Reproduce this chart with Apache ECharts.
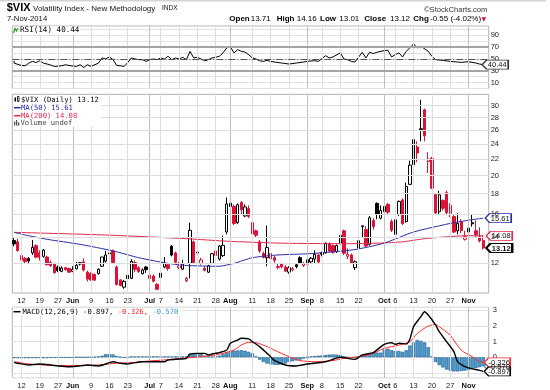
<!DOCTYPE html>
<html><head><meta charset="utf-8">
<script src="https://cdn.jsdelivr.net/npm/echarts@6/dist/echarts.min.js"></script>
<style>html,body{margin:0;padding:0;background:#fff}#c{width:550px;height:390px}</style>
</head><body><div id="c"></div>
<script>
// ---- trading days (categories) ----
const monthDays = [
 ['05', [8,9,12,13,14,15,16,19,20,21,22,23,27,28,29,30]],
 ['06', [2,3,4,5,6,9,10,11,12,13,16,17,18,19,20,23,24,25,26,27,30]],
 ['07', [1,2,3,7,8,9,10,11,14,15,16,17,18,21,22,23,24,25,28,29,30,31]],
 ['08', [1,4,5,6,7,8,11,12,13,14,15,18,19,20,21,22,25,26,27,28,29]],
 ['09', [2,3,4,5,8,9,10,11,12,15,16,17,18,19,22,23,24,25,26,29,30]],
 ['10', [1,2,3,6,7,8,9,10,13,14,15,16,17,20,21,22,23,24,27,28,29,30,31]],
 ['11', [3,4,5,6,7]]
];
const categories = [];
monthDays.forEach(([m, ds]) => ds.forEach(d => categories.push(m + '-' + String(d).padStart(2, '0'))));

// ---- x tick labels ----
const xTicks = [['05-12','12'],['05-19','19'],['05-27','27'],['06-02','Jun'],['06-09','9'],['06-16','16'],['06-23','23'],
 ['07-01','Jul'],['07-07','7'],['07-14','14'],['07-21','21'],['07-28','28'],['08-01','Aug'],['08-11','11'],['08-18','18'],
 ['08-25','25'],['09-02','Sep'],['09-08','8'],['09-15','15'],['09-22','22'],['10-01','Oct'],['10-06','6'],['10-13','13'],
 ['10-20','20'],['10-27','27'],['11-03','Nov']];
const monthLabels = ['Jun','Jul','Aug','Sep','Oct','Nov'];

// ---- price OHLC ----
const opens = [13.70,13.60,12.55,12.35,12.35,12.75,13.30,12.75,12.50,12.45,12.05,11.95,11.75,11.45,11.70,11.65,11.45,11.62,12.05,12.10,
 11.40,11.30,11.25,11.30,11.80,12.15,12.75,12.90,11.75,10.90,10.45,11.20,11.00,12.05,11.70,11.30,11.75,11.20,11.15,10.62,
 11.05,11.75,11.90,13.25,12.75,11.70,11.60,10.85,12.00,13.60,12.75,12.00,11.65,11.40,12.00,12.90,12.30,12.55,14.40,16.70,
 16.70,15.20,17.10,15.80,16.50,15.20,14.50,13.60,12.70,12.40,12.70,12.40,11.70,11.95,11.75,11.40,11.55,11.90,12.40,11.85,
 11.95,12.10,12.30,12.60,12.75,12.75,13.45,13.30,12.85,13.50,14.50,12.50,12.60,11.70,13.10,14.85,14.60,13.40,15.40,17.00,
 15.60,16.20,16.90,15.30,14.20,15.95,17.35,15.30,19.00,21.30,23.60,26.10,29.30,21.70,22.10,17.90,16.20,17.30,18.10,16.80,
 15.75,14.50,15.30,13.80,14.40,15.20,14.50,14.00,13.71];
const highs = [13.95,13.85,12.65,12.45,12.45,13.75,13.40,12.95,13.05,12.55,12.20,12.05,11.85,11.80,11.75,11.70,11.80,12.10,12.10,12.35,
 11.50,11.40,11.30,11.65,12.45,12.90,12.85,13.00,11.85,10.95,10.90,11.30,12.30,12.20,11.80,11.65,11.80,11.30,11.25,10.70,
 11.45,12.45,12.00,13.35,12.85,12.10,12.25,11.10,15.20,13.70,13.60,12.40,11.80,11.90,12.75,13.55,13.35,14.10,17.60,17.60,
 16.90,17.00,17.25,16.90,16.80,15.40,14.60,13.75,12.85,14.95,12.85,12.55,12.00,12.05,11.85,11.80,11.75,12.00,12.50,12.10,
 12.85,12.45,12.95,12.70,12.85,13.55,13.55,13.40,13.40,14.40,14.60,13.10,12.70,12.20,13.90,14.95,14.90,15.80,15.60,17.10,
 16.80,17.00,17.05,15.50,15.70,17.30,17.50,19.20,21.80,24.70,24.40,31.06,29.50,22.90,22.30,17.95,18.30,17.40,18.30,17.00,
 15.90,16.05,15.50,14.50,14.95,15.90,15.40,14.80,14.16];
const lows = [13.25,12.85,12.10,11.95,12.00,12.60,12.35,12.20,12.40,11.85,11.75,11.30,11.40,11.40,11.50,11.35,11.40,11.60,11.85,11.45,
 10.80,10.85,10.85,11.25,11.75,12.05,12.55,11.95,10.55,10.50,10.35,10.85,10.95,11.40,11.35,11.25,11.35,10.95,10.75,10.28,
 10.95,11.65,11.50,12.50,12.00,11.60,11.55,10.75,11.00,11.95,12.20,11.90,11.45,11.35,11.95,12.45,12.20,12.45,14.20,16.20,
 15.00,15.10,15.95,15.70,15.60,14.10,13.95,12.75,12.35,11.80,12.20,11.95,11.60,11.65,11.40,11.30,11.45,11.65,11.95,11.75,
 11.70,12.00,12.00,12.00,12.50,12.70,12.80,12.70,12.75,13.40,12.60,12.30,11.95,11.55,12.90,13.90,13.20,13.30,14.60,15.50,
 15.50,16.10,15.90,14.40,14.10,15.80,15.00,15.20,18.90,20.80,21.60,24.40,24.40,20.30,18.50,16.00,16.00,16.30,15.90,15.70,
 14.30,14.20,14.30,13.70,14.20,14.85,13.95,13.55,13.01];
const closes = [13.43,12.92,12.23,12.13,12.17,13.17,12.44,12.42,12.96,11.91,11.84,11.36,11.51,11.68,11.57,11.40,11.58,11.87,11.95,11.55,
 10.95,10.90,10.88,11.60,12.45,12.60,12.68,12.06,10.61,10.55,10.80,10.98,12.13,11.59,11.45,11.55,11.57,10.99,10.82,10.32,
 11.33,11.98,11.65,12.59,12.08,11.82,11.96,11.00,14.54,12.06,12.81,12.24,11.52,11.84,12.69,12.56,13.28,13.33,16.95,17.03,
 15.12,16.87,16.37,16.66,15.77,14.23,14.13,12.90,12.42,13.15,12.32,12.21,11.78,11.76,11.47,11.70,11.63,11.78,12.05,11.98,
 12.25,12.36,12.64,12.09,12.66,13.50,12.88,12.80,13.31,14.12,12.73,12.65,12.03,12.11,13.69,14.93,13.27,15.64,14.85,15.98,
 16.31,16.71,16.16,14.55,15.46,17.20,15.11,18.76,21.24,24.64,22.79,26.25,25.20,21.99,18.57,16.08,17.87,16.53,16.11,16.04,
 14.39,15.15,14.52,14.03,14.73,15.10,14.17,13.67,13.12];
const priceTicks = [12,14,16,18,20,22,24,26,28,30];

// ---- moving averages (read at points) ----
const ma50 = [[0,14.37],[3,14.15],[9,13.8],[18,13.4],[27,12.9],[34,12.4],[42,12.0],[47,11.85],[56,11.8],[60,12.0],[65,12.4],
 [72,12.6],[81,12.7],[93,13.0],[101,13.5],[109,14.4],[120,15.2],[128,15.61]];
const ma200 = [[0,14.37],[25,14.15],[47,13.85],[58,13.65],[72,13.5],[90,13.45],[100,13.5],[106,13.6],[112,13.85],[118,14.0],
 [124,14.1],[128,14.08]];

// ---- RSI(14) ----
const rsi = [[0,47],[0.4,43],[2,39],[3,38.6],[4,43],[5,46],[6,44],[7,47],[8,43],[9,41.5],[10,39.8],[11,37.4],[13,38.6],[14,40.3],
 [15,39],[17,37.4],[18,40.3],[19,35.7],[20,40.3],[21,37.4],[23,43],[24,51.8],[25,50.1],[26,53.5],[27,48.9],[28,39],[29,38.6],
 [30,37.4],[31,44],[32,51.8],[33,50.1],[34,48.9],[35,48.9],[36,46],[37,48.9],[38,50],[39,48.9],[40,51.8],[41,50],[42,54.6],
 [43,48.9],[44,51.8],[45,50],[46,52.9],[47,48.9],[48,63],[49,51.8],[50,52.9],[51,50],[52,47],[53,48.9],[54,51.8],[55,52.9],
 [56,54.6],[57,60.4],[58,68.9],[59,70.6],[60,60.4],[61,66],[62,63],[63,61.7],[64,57.5],[65,51.8],[66,50],[67,47],[68,46],
 [69,47.7],[70,46],[71,44.9],[73,43.2],[75,41.5],[77,43.2],[79,44.9],[80,46],[82,47.2],[83,46],[85,55.7],[86,51.8],[87,53.5],
 [89,60.4],[90,50],[91,48.9],[92,46],[93,44.9],[95,61.5],[96,51.8],[97,61.5],[98,59.3],[99,61.5],[101,64.3],[102,64.9],
 [103,53.5],[104,57.5],[105,60.4],[106,53.5],[107,63.1],[108,68.9],[109,75.7],[110,68.9],[111,71.7],[113,63.1],[114,54.6],
 [115,48.9],[117,47.7],[119,46],[121,44.9],[122,44.3],[124,45.4],[126,43.2],[127,41.5],[128,40.44]];

// ---- MACD(12,26,9) ----
const macd = [[0,-0.32],[1,-0.38],[4,-0.49],[7,-0.43],[10,-0.49],[12,-0.55],[15,-0.6],[18,-0.55],[20,-0.49],[23,-0.55],
 [26,-0.34],[27,-0.28],[29,-0.38],[31,-0.43],[32,-0.38],[35,-0.28],[38,-0.28],[41,-0.28],[42,-0.17],[45,-0.11],[47,-0.07],
 [48,0.21],[50,0.25],[52,0.25],[53,0.15],[54,0.21],[56,0.3],[58,0.46],[59,0.89],[61,1.1],[62,1.21],[64,1.17],[65,1.0],
 [67,0.68],[69,0.25],[70,0.04],[71,-0.2],[74,-0.49],[77,-0.55],[80,-0.43],[85,-0.28],[89,0],[93,-0.13],[95,0.15],[98,0.3],
 [99,0.47],[101,0.83],[103,0.93],[104,0.83],[105,0.89],[107,0.85],[108,1.17],[109,1.95],[111,2.59],[112,2.9],[113,2.69],
 [115,2.06],[116,1.63],[118,1.0],[120,0.36],[121,-0.28],[123,-0.59],[125,-0.74],[127,-0.83],[128,-0.897]];
const signal = [[0,-0.28],[5,-0.45],[14,-0.53],[23,-0.49],[28,-0.38],[32,-0.34],[37,-0.23],[41,-0.17],[46,-0.06],[51,0.04],
 [55,0.15],[60,0.46],[62,0.78],[64,0.95],[66,0.93],[69,0.68],[71,0.46],[75,0.04],[78,-0.21],[82,-0.28],[87,-0.21],[90,-0.06],
 [94,0.04],[98,0.25],[101,0.57],[105,0.78],[108,0.99],[110,1.52],[113,1.99],[115,2.09],[116,1.95],[119,1.4],[122,0.46],
 [125,0.04],[127,-0.28],[128,-0.326]];
const hist = [
 -0.05,-0.05,-0.05,-0.05,-0.05,-0.05,-0.05,-0.05,-0.05,-0.05,
 -0.03,-0.03,-0.02,-0.02,-0.02,-0.02,-0.02,0,0,0,
 0,0.02,0.02,0.05,0.1,0.2,0.21,0.18,0.08,0.02,
 -0.02,0,0.05,0.05,0.05,0.05,0.05,0.05,0.05,0.05,
 0.05,0.05,0.05,0.05,0.05,0.05,0.05,0.05,0.2,0.27,
 0.26,0.22,0.1,0.05,0.04,0.06,0.1,0.2,0.3,0.4,
 0.42,0.44,0.45,0.42,0.35,0.25,0.05,-0.15,-0.3,-0.4,
 -0.45,-0.48,-0.49,-0.45,-0.4,-0.3,-0.25,-0.2,-0.15,-0.08,
 0,0.05,0.08,0.1,0.12,0.15,0.17,0.18,0.17,0.15,
 0.05,0,-0.05,-0.05,0.05,0.15,0.15,0.25,0.3,0.3,
 0.3,0.5,0.55,0.45,0.4,0.4,0.35,0.45,0.75,0.95,
 1.1,1.05,0.95,0.65,0.05,-0.3,-0.5,-0.65,-0.78,-0.85,
 -0.9,-0.9,-0.88,-0.85,-0.8,-0.75,-0.7,-0.63,-0.57];

// ---- styling ----
const RED = '#dc1238', MA50C = '#2d2da6', MA200C = '#e0284f', MACDBLUE = '#3a95d0';
const SANS = 'Liberation Sans';
const xCats = categories.concat(['']);
const last = categories[categories.length - 1];
const tickMap = {}; xTicks.forEach(([d, l]) => tickMap[d] = l);

const candleData = closes.map((c, i) => {
  const o = opens[i];
  const prev = i > 0 ? closes[i - 1] : 0;
  const col = c >= prev ? '#000' : RED;
  const hollow = c > o;
  return { value: [o, c, lows[i], highs[i]],
    itemStyle: { color: hollow ? '#fff' : col, color0: hollow ? '#fff' : col,
      borderColor: col, borderColor0: col, borderColorDoji: col } };
});

const vLines = xTicks.map(([d, l]) => ({ xAxis: d,
  lineStyle: { color: monthLabels.includes(l) ? '#c0c0c0' : '#dedede', width: 1, type: 'solid' } }));

function tag(val, text, border, off, bold) {
  return { coord: [last, val], value: text, symbol: 'path://M0,5L5,0L30,0L30,10L5,10Z',
    symbolSize: [26, 9], symbolOffset: [off, 0],
    itemStyle: { color: '#fff', borderColor: border, borderWidth: bold ? 1.5 : 1 },
    label: { show: true, position: 'inside', offset: [2, 0.5], formatter: text, color: '#111',
      fontSize: 7.5, fontFamily: SANS, fontWeight: bold ? 'bold' : 'normal' } };
}

const xAxisBase = (g, showLabel) => ({
  type: 'category', gridIndex: g, data: xCats, boundaryGap: true,
  axisLine: { show: false }, axisTick: { show: false }, splitLine: { show: false },
  axisLabel: showLabel ? {
    interval: (idx, val) => !!tickMap[val],
    formatter: val => { const l = tickMap[val] || ''; return monthLabels.includes(l) ? '{m|' + l + '}' : l; },
    fontSize: 7.5, fontFamily: SANS, color: '#222', margin: 4,
    rich: { m: { fontSize: 7.5, fontFamily: SANS, fontWeight: 'bold', color: '#111' } }
  } : { show: false }
});

const option = {
  animation: false,
  backgroundColor: '#fff',
  grid: [
    { left: 12.3, top: 26, width: 476.4, height: 62.5, show: true, borderColor: '#b0b0b0', borderWidth: 1 },
    { left: 12.3, top: 94.3, width: 476.4, height: 198.7, show: true, borderColor: '#b0b0b0', borderWidth: 1 },
    { left: 12.3, top: 307.3, width: 476.4, height: 70.4, show: true, borderColor: '#b0b0b0', borderWidth: 1 }
  ],
  xAxis: [xAxisBase(0, false), xAxisBase(1, true), xAxisBase(2, true)],
  yAxis: [
    { type: 'value', gridIndex: 0, position: 'right', min: 0, max: 106, interval: 10,
      axisLine: { show: false }, axisTick: { show: false },
      axisLabel: { formatter: v => [10,30,50,70,90].includes(v) ? String(v) : '', fontSize: 7.5, fontFamily: SANS, color: '#222', margin: 2 },
      splitLine: { lineStyle: { color: '#e2e2e2' } } },
    { type: 'log', logBase: 10, gridIndex: 1, position: 'right', min: 10.10, max: 32.06,
      axisLine: { show: false }, axisTick: { show: false }, axisLabel: { show: false }, splitLine: { show: false } },
    { type: 'value', gridIndex: 2, position: 'right', min: -1.3, max: 3.185,
      axisLine: { show: false }, axisTick: { show: false },
      axisLabel: { formatter: v => [0,1,2,3].includes(v) ? String(v) : '', fontSize: 7.5, fontFamily: SANS, color: '#222', margin: 4 },
      splitLine: { lineStyle: { color: '#e2e2e2' } } }
  ],
  series: [
    { type: 'line', xAxisIndex: 0, yAxisIndex: 0, data: rsi, z: 1, silent: true, symbol: 'none',
      lineStyle: { opacity: 0 },
      markLine: { silent: true, symbol: ['none', 'none'], label: { show: false },
        data: vLines.concat([
          { yAxis: 70, lineStyle: { color: '#a4a4a4', width: 2, type: 'solid' } },
          { yAxis: 30, lineStyle: { color: '#a4a4a4', width: 2, type: 'solid' } },
          { yAxis: 50, lineStyle: { color: '#555', width: 1, type: [7, 2, 1, 2] } }
        ]) } },
    { type: 'line', xAxisIndex: 0, yAxisIndex: 0, data: rsi, z: 4, symbol: 'none', silent: true,
      lineStyle: { color: '#000', width: 1 },
      markPoint: { silent: true, data: [tag(40.44, '40.44', '#333', 12, false)] } },
    { type: 'line', xAxisIndex: 1, yAxisIndex: 1, data: closes.map((c, i) => [i, c]), z: 1, silent: true, symbol: 'none',
      lineStyle: { opacity: 0 },
      markLine: { silent: true, symbol: ['none', 'none'], label: { show: false },
        data: vLines.concat(priceTicks.map(v => ({ yAxis: v,
          lineStyle: { color: '#dedede', width: 1, type: 'solid' },
          label: { show: true, position: 'end', formatter: String(v), distance: 2, color: '#222', fontSize: 7.5, fontFamily: SANS } }))) } },
    { type: 'candlestick', xAxisIndex: 1, yAxisIndex: 1, data: candleData, barWidth: 2.8, z: 3, silent: true,
      markPoint: { silent: true, data: [tag(13.12, '13.12', '#000', 16, true)] } },
    { type: 'line', xAxisIndex: 1, yAxisIndex: 1, data: ma200, z: 4, symbol: 'none', silent: true, smooth: 0.2,
      lineStyle: { color: MA200C, width: 1 },
      markPoint: { silent: true, data: [tag(14.08, '14.08', MA200C, 16, false)] } },
    { type: 'line', xAxisIndex: 1, yAxisIndex: 1, data: ma50, z: 4, symbol: 'none', silent: true, smooth: 0.2,
      lineStyle: { color: MA50C, width: 1 },
      markPoint: { silent: true, data: [tag(15.61, '15.61', MA50C, 15, false)] } },
    { type: 'line', xAxisIndex: 2, yAxisIndex: 2, data: macd, z: 1, silent: true, symbol: 'none',
      lineStyle: { opacity: 0 },
      markLine: { silent: true, symbol: ['none', 'none'], label: { show: false }, data: vLines } },
    { type: 'bar', xAxisIndex: 2, yAxisIndex: 2, data: hist, z: 2, silent: true, barCategoryGap: '8%',
      itemStyle: { color: '#4c9bd0', borderColor: '#22618f', borderWidth: 0.6 },
      markPoint: { silent: true, data: [tag(-0.570, '-0.570', MACDBLUE, 14, false)] } },
    { type: 'line', xAxisIndex: 2, yAxisIndex: 2, data: signal, z: 4, symbol: 'none', silent: true, smooth: 0.25,
      lineStyle: { color: '#ff2a2a', width: 1 },
      markPoint: { silent: true, data: [tag(-0.326, '-0.326', '#ff2a2a', 14, false)] } },
    { type: 'line', xAxisIndex: 2, yAxisIndex: 2, data: macd, z: 5, symbol: 'none', silent: true, smooth: 0.25,
      lineStyle: { color: '#000', width: 1.4 },
      markPoint: { silent: true, data: [tag(-0.897, '-0.897', '#000', 14, false)] } }
  ],
  graphic: [
    { type: 'rect', shape: { x: 0, y: 0, width: 546, height: 1.5 }, style: { fill: '#d4d4d4' }, silent: true },
    { type: 'text', x: 6.7, y: 7.5, style: { text: '$VIX', font: 'bold 11px "Liberation Sans"', fill: '#000', verticalAlign: 'middle' } },
    { type: 'text', x: 33, y: 8.5, style: { text: 'Volatility Index - New Methodology', font: '8px "Liberation Sans"', fill: '#111', verticalAlign: 'middle' } },
    { type: 'text', x: 162, y: 8.5, style: { text: 'INDX', font: '6.5px "Liberation Sans"', fill: '#111', verticalAlign: 'middle' } },
    { type: 'text', x: 7, y: 19, style: { text: '7-Nov-2014', font: '7.7px "Liberation Sans"', fill: '#111', verticalAlign: 'middle' } },
    { type: 'text', x: 424, y: 10, style: { text: '©StockCharts.com', font: '7.6px "Liberation Sans"', fill: '#333', verticalAlign: 'middle' } },
    ...[['Open', 229.3, true], ['13.71', 250.7], ['High', 276.7, true], ['14.16', 296.7], ['Low', 320, true], ['13.01', 339.3],
        ['Close', 364.3, true], ['13.12', 390], ['Chg', 413.3, true], ['-0.55 (-4.02%)', 430]].map(([t, x, b]) => (
      { type: 'text', x: x, y: 19, style: { text: t, font: (b ? 'bold 8px' : '8px') + ' "Liberation Sans"', fill: '#000', verticalAlign: 'middle' } })),
    { type: 'text', x: 481.5, y: 19, style: { text: '▼', font: '6px "DejaVu Sans"', fill: '#d0103a', verticalAlign: 'middle' } },
    // RSI label
    { type: 'polyline', shape: { points: [[13.5, 33], [15, 28.5], [16.5, 31], [18, 28]] }, style: { stroke: '#2a9a2a', lineWidth: 1.2, fill: null }, z: 10 },
    { type: 'text', x: 19, y: 30.5, z: 10, style: { text: 'RSI(14) 40.44', font: '7.6px "DejaVu Sans Mono"', fill: '#000', verticalAlign: 'middle',
        backgroundColor: '#fff', padding: [0, 1] } },
    // price legend (white box behind)
    { type: 'rect', z: 9, shape: { x: 13, y: 95.5, width: 88, height: 31 }, style: { fill: '#fff' } },
    { type: 'rect', z: 10, shape: { x: 14.5, y: 97.5, width: 1.5, height: 4 }, style: { fill: '#000' } },
    { type: 'rect', z: 10, shape: { x: 17.5, y: 96.5, width: 1.5, height: 5 }, style: { fill: 'none', stroke: '#000', lineWidth: 0.8 } },
    { type: 'text', z: 10, x: 21, y: 99.7, style: { text: '$VIX (Daily) 13.12', font: '7.2px "DejaVu Sans Mono"', fill: '#000', verticalAlign: 'middle' } },
    { type: 'line', z: 10, shape: { x1: 14, y1: 107.7, x2: 20.5, y2: 107.7 }, style: { stroke: MA50C, lineWidth: 1.5 } },
    { type: 'text', z: 10, x: 21, y: 107.7, style: { text: 'MA(50) 15.61', font: '7.2px "DejaVu Sans Mono"', fill: MA50C, verticalAlign: 'middle' } },
    { type: 'line', z: 10, shape: { x1: 14, y1: 115.7, x2: 20.5, y2: 115.7 }, style: { stroke: MA200C, lineWidth: 1.5 } },
    { type: 'text', z: 10, x: 21, y: 115.7, style: { text: 'MA(200) 14.08', font: '7.2px "DejaVu Sans Mono"', fill: MA200C, verticalAlign: 'middle' } },
    { type: 'rect', z: 10, shape: { x: 14, y: 121.5, width: 1.3, height: 4 }, style: { fill: '#555' } },
    { type: 'rect', z: 10, shape: { x: 16, y: 120, width: 1.3, height: 5.5 }, style: { fill: '#555' } },
    { type: 'rect', z: 10, shape: { x: 18, y: 122.5, width: 1.3, height: 3 }, style: { fill: '#555' } },
    { type: 'text', z: 10, x: 20.5, y: 123.3, style: { text: 'Volume undef', font: '7.2px "DejaVu Sans Mono"', fill: '#444', verticalAlign: 'middle' } },
    // MACD label
    { type: 'rect', z: 9, shape: { x: 13, y: 308.3, width: 170, height: 7 }, style: { fill: '#fff' } },
    { type: 'line', z: 10, shape: { x1: 13.5, y1: 311.7, x2: 20.5, y2: 311.7 }, style: { stroke: '#000', lineWidth: 1.5 } },
    { type: 'text', z: 10, x: 22.5, y: 311.7, style: { rich: { k: { fill: '#000' }, r: { fill: '#ff2020' }, b: { fill: MACDBLUE } },
        text: '{k|MACD(12,26,9) -0.897, }{r|-0.326, }{b|-0.570}', font: '7.2px "DejaVu Sans Mono"', verticalAlign: 'middle' } }
  ]
};
const chart = echarts.init(document.getElementById('c'), null, { renderer: 'canvas', width: 550, height: 390 });
chart.setOption(option);
</script></body></html>
